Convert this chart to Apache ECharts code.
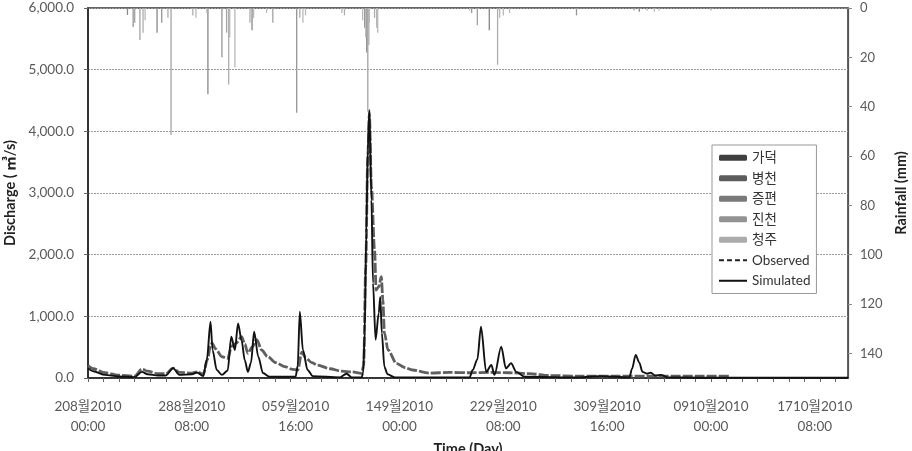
<!DOCTYPE html>
<html>
<head>
<meta charset="utf-8">
<script src="https://cdn.jsdelivr.net/npm/echarts@6/dist/echarts.min.js"></script>
<style>
html,body{margin:0;padding:0;background:#fff;}
#c{width:912px;height:451px;}
</style>
</head>
<body>
<div id="c"></div>
<script>
// ---- Data ----
const xTickHours = [0, 200, 400, 600, 800, 1000, 1200, 1400];
const xTickLabels = ["208월2010\n00:00", "288월2010\n08:00", "059월2010\n16:00", "149월2010\n00:00",
                     "229월2010\n08:00", "309월2010\n16:00", "0910월2010\n00:00", "1710월2010\n08:00"];
const stationNames = ["가덕", "병천", "증편", "진천", "청주"];

// rainfall [hour, mm]
const rainGadeok = [[76,2.8],[133,10],[231,35],[316,9],[537,18],[773,9],[1062,1.5]];
const rainByeongcheon = [[87,7.7],[142,6],[258,20],[402,42.5],[533,8],[739,2],[941,3]];
const rainJeungpyeong = [[90,6],[100,13],[160,51.5],[267,10],[356,6],[539,42],[750,7],[1052,1]];
const rainJincheon = [[106,10],[154,4],[202,3],[271,31],[312,6],[408,4],[494,3],[541,15],[552,4],[789,23],[1077,1],[1200,1]];
const rainCheongju = [[110,5],[208,4],[229,2],[273,12],[283,24],[319,4],[344,2],[414,6],[419,3],[489,2],[529,5],[535,12],[542,6],[556,8],[558,10],[735,1],[793,4],[800,3],[812,2],[1091,1.5],[1100,1]];

// discharge
const obsHours  = [0,10,33,58,90,104,115,135,150,164,176,200,210,222,230,236,239,246,258,269,277,285,296,302,308,316,325,335,346,362,379,394,404,412,419,431,442,466,489,508,527,531,535,539,542,546,552,555,560,565,568,571,578,594,610,625,658,696,735,773,812,850,889,946,1023,1100,1177,1235];
const obsValues = [200,150,86,45,30,145,110,70,70,160,90,80,100,60,300,520,567,470,345,320,520,560,670,550,400,500,620,450,345,250,183,140,130,420,330,250,210,150,110,100,75,200,1800,3600,4300,3100,2075,1427,1480,1643,1265,730,454,238,170,130,80,90,85,90,85,70,40,30,30,30,30,30];
const simHours  = [0,10,33,58,90,104,115,135,150,164,176,200,210,222,229,236,240,248,258,269,276,283,289,296,302,308,314,320,328,337,350,400,404,408,414,423,433,485,498,508,527,530,533,536,539,542,546,549,554,560,563,566,571,577,591,735,741,750,757,767,777,783,796,805,815,825,841,946,985,1043,1048,1055,1062,1068,1077,1084,1093,1104,1116,1177,1300,1464];
const simValues = [160,110,50,25,15,100,60,40,40,160,50,60,90,30,300,913,450,130,50,120,670,454,886,600,290,100,250,750,345,80,20,20,200,1075,454,130,30,10,70,10,10,80,730,2350,3700,4346,2886,1540,620,1050,1313,730,180,60,10,10,130,300,832,100,210,50,508,157,238,100,20,10,30,10,150,373,250,100,70,86,40,50,10,5,5,5];

// ---- Build ----
const FONT = "Lato, 'Noto Sans CJK KR', sans-serif";
const rainSets = [rainGadeok, rainByeongcheon, rainJeungpyeong, rainJincheon, rainCheongju];
const rainBarColors = ["#888888", "#969696", "#a3a3a3", "#adadad", "#b8b8b8"];
const rainLegendColors = ["#3f3f3f", "#5c5c5c", "#7a7a7a", "#939393", "#ababab"];

function zip(a, b) { return a.map((v, i) => [v, b[i]]); }

const series = rainSets.map((d, i) => ({
  name: stationNames[i],
  type: 'bar',
  xAxisIndex: 0,
  yAxisIndex: 1,
  barWidth: 1.3,
  barGap: '-100%',
  itemStyle: { color: rainBarColors[i] },
  data: d,
  silent: true
}));
series.push({
  name: 'Observed', type: 'line', yAxisIndex: 0, showSymbol: false, symbol: 'none',
  smooth: 0.3, smoothMonotone: 'x',
  itemStyle: { color: '#222' },
  lineStyle: { color: '#5f5f5f', width: 2.8, type: [10, 2] },
  data: zip(obsHours, obsValues), z: 3
});
series.push({
  name: 'Simulated', type: 'line', yAxisIndex: 0, showSymbol: false, symbol: 'none',
  smooth: 0.3, smoothMonotone: 'x',
  itemStyle: { color: '#111' },
  lineStyle: { color: '#111', width: 1.9 },
  data: zip(simHours, simValues), z: 4
});

const ticks30 = [];
for (let h = 0; h <= 1464; h += 30) ticks30.push(h);

const legendData = stationNames.map((n, i) => ({ name: n, icon: 'roundRect', itemStyle: { color: rainLegendColors[i] } }));
legendData.push({ name: 'Observed', itemStyle: { opacity: 0 }, lineStyle: { color: '#222', type: [5, 3], width: 2, opacity: 1 } });
legendData.push({ name: 'Simulated', itemStyle: { opacity: 0 }, lineStyle: { color: '#111', type: 'solid', width: 2, opacity: 1 } });

const chart = echarts.init(document.getElementById('c'), null, { renderer: 'canvas' });
chart.setOption({
  animation: false,
  backgroundColor: '#fff',
  textStyle: { fontFamily: FONT },
  grid: { left: 88, right: 64, top: 8, bottom: 73, show: true, borderColor: '#333', borderWidth: 1.5,
          backgroundColor: 'transparent', outerBoundsMode: 'none', containLabel: false },
  legend: {
    orient: 'vertical', left: 712, top: 145,
    itemWidth: 28, itemHeight: 6, itemGap: 7,
    borderColor: '#999', borderWidth: 1, padding: [6, 6, 6, 6],
    backgroundColor: '#fff',
    textStyle: { fontSize: 13.5, color: '#333', fontFamily: FONT },
    data: legendData
  },
  xAxis: {
    type: 'value', min: 0, max: 1464,
    name: 'Time (Day)', nameLocation: 'middle', nameGap: 62,
    nameTextStyle: { fontSize: 14.5, fontWeight: 'bold', color: '#222' },
    axisLine: { show: true, lineStyle: { color: '#222', width: 1.5 } },
    axisTick: { show: true, customValues: ticks30, length: 4, lineStyle: { color: '#666' } },
    axisLabel: {
      customValues: xTickHours, margin: 19, fontSize: 13.5, color: '#595959', lineHeight: 20,
      formatter: v => { const i = xTickHours.indexOf(v); return i >= 0 ? xTickLabels[i] : ''; }
    },
    splitLine: { show: false }
  },
  yAxis: [{
    type: 'value', min: 0, max: 6000, interval: 1000,
    name: 'Discharge ( ㎥/s)', nameLocation: 'middle', nameGap: 70,
    nameTextStyle: { fontSize: 14.5, fontWeight: 'bold', color: '#222' },
    axisLine: { show: true, lineStyle: { color: '#222', width: 1.5 } },
    axisTick: { show: true, length: 4, lineStyle: { color: '#666' } },
    axisLabel: { fontSize: 13.5, color: '#595959', margin: 14,
      formatter: v => v.toLocaleString('en-US', { minimumFractionDigits: 1, maximumFractionDigits: 1 }) },
    splitLine: { show: true, lineStyle: { color: '#999', type: [2, 1], width: 1 } }
  }, {
    type: 'value', min: 0, max: 150, interval: 20, inverse: true, position: 'right',
    name: 'Rainfall (mm)', nameLocation: 'middle', nameGap: 46,
    nameTextStyle: { fontSize: 14.5, fontWeight: 'bold', color: '#222' },
    axisLine: { show: true, lineStyle: { color: '#555', width: 1.2 } },
    axisTick: { show: true, length: 4, lineStyle: { color: '#888' } },
    axisLabel: { fontSize: 13, color: '#595959', margin: 12, showMaxLabel: false,
      formatter: v => (v % 20 === 0 ? String(v) : '') },
    splitLine: { show: false }
  }],
  series: series
});
</script>
</body>
</html>
